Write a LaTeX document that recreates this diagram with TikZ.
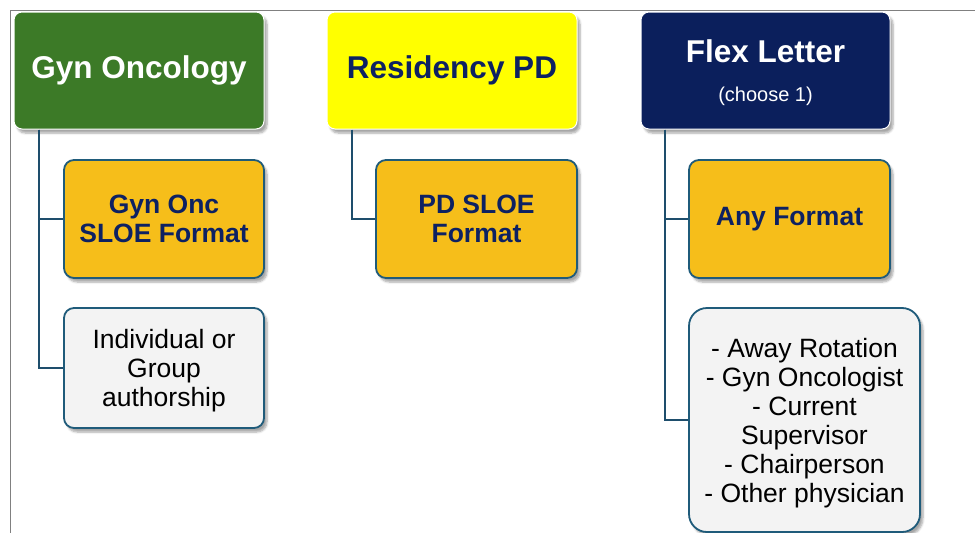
\documentclass[tikz,border=0pt]{standalone}
\usepackage{fontspec}
\setmainfont{Liberation Sans}
\usetikzlibrary{shadows,shadows.blur}

\definecolor{gyngreen}{HTML}{3C7A27}
\definecolor{pdyellow}{HTML}{FFFF00}
\definecolor{flexnavy}{HTML}{0B1F5C}
\definecolor{headnavy}{HTML}{0D2162}
\definecolor{sloeorange}{HTML}{F6BE1A}
\definecolor{boxedge}{HTML}{1F5B7A}
\definecolor{notegrey}{HTML}{F3F3F3}
\definecolor{linkblue}{HTML}{1E4E6C}

\begin{document}
\begin{tikzpicture}[x=1pt,y=-1pt,
head/.style={draw=white,line width=1pt,rounded corners=8pt,minimum height=117pt,
  inner sep=0pt,align=center,font=\bfseries\fontsize{31.5}{39}\selectfont,
  blur shadow={shadow xshift=3pt,shadow yshift=-4pt,shadow opacity=35,shadow blur steps=6}},
sub/.style={draw=boxedge,line width=1.8pt,fill=sloeorange,rounded corners=10pt,
  minimum width=200pt,minimum height=118pt,inner sep=0pt,align=center,text=headnavy,
  font=\bfseries\fontsize{26.5}{29}\selectfont,
  blur shadow={shadow xshift=3pt,shadow yshift=-4pt,shadow opacity=35,shadow blur steps=6}},
note/.style={sub,fill=notegrey,text=black,font=\fontsize{26.5}{29}\selectfont},
link/.style={draw=linkblue,line width=2pt}]

\useasboundingbox (0,0) rectangle (975,533);
\draw[gray,line width=1pt] (10,533) -- (10,10) -- (975,10);

% top row
\node[head,fill=gyngreen,text=white,minimum width=250pt] (gyn) at (139,70.5) {Gyn Oncology};
\node[head,fill=pdyellow,text=headnavy,minimum width=250pt] (res) at (452,70.5) {Residency PD};
\node[head,fill=flexnavy,text=white,minimum width=249pt,text depth=-2pt] (flex) at (765.5,70.5)
  {Flex Letter\\{\mdseries\fontsize{20}{24}\selectfont (choose 1)}};

% letter formats
\node[sub] (gynsloe) at (164,219) {Gyn Onc\\SLOE Format};
\node[sub,minimum width=201pt] (pdsloe) at (476.5,219) {PD SLOE\\Format};
\node[sub,minimum width=201pt] (anyfmt) at (789.5,219) {Any Format};

% authors
\node[note,minimum height=120pt,text depth=0pt] (indiv) at (164,368) {Individual or\\Group\\authorship};
\node[note,minimum width=231pt,minimum height=224pt,rounded corners=18pt,text depth=-4pt] (writers) at (804.5,420)
  {- Away Rotation\\- Gyn Oncologist\\- Current\\Supervisor\\- Chairperson\\- Other physician};

\draw[link] ([xshift=25pt]gyn.south west) |- (gynsloe.west);
\draw[link] ([xshift=25pt]gyn.south west) |- (indiv.west);
\draw[link] ([xshift=25pt]res.south west) |- (pdsloe.west);
\draw[link] ([xshift=24pt]flex.south west) |- (anyfmt.west);
\draw[link] ([xshift=24pt]flex.south west) |- (writers.west);
\end{tikzpicture}
\end{document}
